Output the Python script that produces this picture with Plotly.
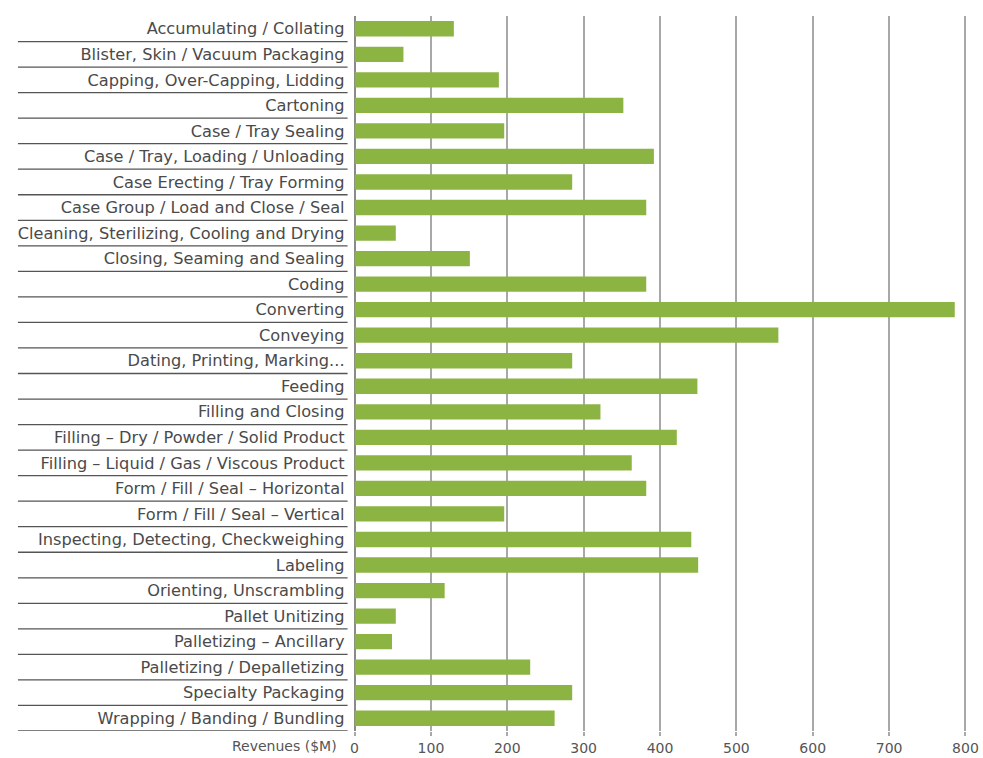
import plotly.graph_objects as go

# Packaging machinery segments and their revenues ($M)
categories = [
    "Accumulating / Collating",
    "Blister, Skin / Vacuum Packaging",
    "Capping, Over-Capping, Lidding",
    "Cartoning",
    "Case / Tray Sealing",
    "Case / Tray, Loading / Unloading",
    "Case Erecting / Tray Forming",
    "Case Group / Load and Close / Seal",
    "Cleaning, Sterilizing, Cooling and Drying",
    "Closing, Seaming and Sealing",
    "Coding",
    "Converting",
    "Conveying",
    "Dating, Printing, Marking...",
    "Feeding",
    "Filling and Closing",
    "Filling – Dry / Powder / Solid Product",
    "Filling – Liquid / Gas / Viscous Product",
    "Form / Fill / Seal – Horizontal",
    "Form / Fill / Seal – Vertical",
    "Inspecting, Detecting, Checkweighing",
    "Labeling",
    "Orienting, Unscrambling",
    "Pallet Unitizing",
    "Palletizing – Ancillary",
    "Palletizing / Depalletizing",
    "Specialty Packaging",
    "Wrapping / Banding / Bundling",
]
revenues = [130, 64, 189, 352, 196, 392, 285, 382, 54, 151, 382, 786, 555,
            285, 449, 322, 422, 363, 382, 196, 441, 450, 118, 54, 49, 230,
            285, 262]
x_ticks = [0, 100, 200, 300, 400, 500, 600, 700, 800]

W, H = 983, 758
left_px = 352

fig = go.Figure(
    go.Bar(
        x=revenues,
        y=categories,
        orientation="h",
        marker=dict(color="#8cb443", line=dict(width=0)),
        width=0.6,
    )
)

# Rule under each category label
shapes = []
for i in range(len(categories)):
    shapes.append(dict(
        type="line", xref="paper", yref="y",
        x0=14 / W, x1=345 / W, y0=i + 0.5, y1=i + 0.5,
        line=dict(color="#555555", width=1.3),
    ))

fig.update_layout(
    width=W, height=H,
    margin=dict(l=0, r=0, t=16, b=27),
    paper_bgcolor="white",
    plot_bgcolor="white",
    showlegend=False,
    bargap=0.4,
    font=dict(family="'DejaVu Sans', Arial, sans-serif", color="#444444"),
    shapes=shapes,
    annotations=[dict(
        text="Revenues ($M)", xref="paper", yref="paper",
        x=336 / W, y=-15 / (H - 43), xanchor="right", yanchor="middle",
        showarrow=False, font=dict(size=14, color="#555555"),
    )],
)

fig.update_xaxes(
    domain=[left_px / W, 1],
    range=[0, 823],
    tickvals=x_ticks,
    ticktext=[str(v) for v in x_ticks],
    showgrid=True, gridcolor="#a8a8a8", gridwidth=2,
    zeroline=True, zerolinecolor="#8a8a8a", zerolinewidth=2,
    ticks="outside", ticklen=4, tickcolor="#a8a8a8", tickwidth=2,
    tickfont=dict(size=14, color="#555555"),
    showline=False,
)

fig.update_yaxes(
    categoryorder="array",
    categoryarray=categories,
    range=[len(categories) - 0.5, -0.5],
    showgrid=False, zeroline=False, showline=False,
    ticks="", ticklabelstandoff=9,
    tickfont=dict(size=16.2, color="#4a4a4a"),
)

fig.write_html("out.html")
